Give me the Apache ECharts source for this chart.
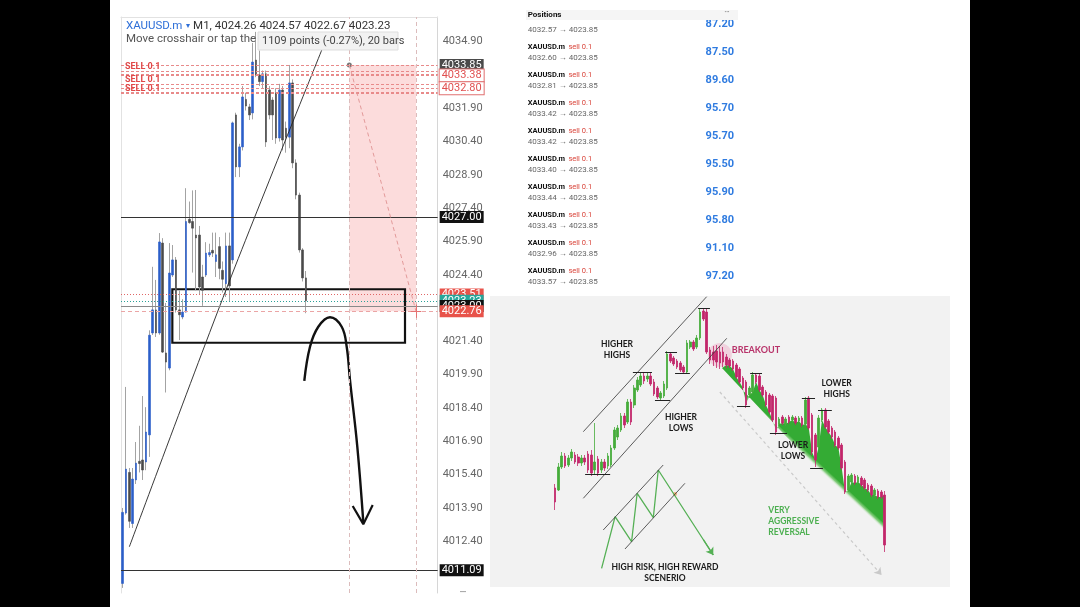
<!DOCTYPE html>
<html><head><meta charset="utf-8">
<script src="https://cdn.jsdelivr.net/npm/echarts@6/dist/echarts.min.js"></script>
<style>html,body{margin:0;padding:0;background:#000;}#c{width:1080px;height:607px;}</style>
</head><body><div id="c"></div>
<script>
// ---------- DATA ----------
const priceTicks = [4012.40, 4013.90, 4015.40, 4016.90, 4018.40, 4019.90, 4021.40, 4024.40, 4025.90, 4027.40, 4028.90, 4030.40, 4031.90, 4034.90];
// XAUUSD M1 candles [open, close, low, high]
const xauCandles = [
[4010.50,4013.70,4010.30,4013.90],[4013.67,4015.65,4013.60,4019.35],[4015.50,4013.30,4013.00,4015.70],
[4013.20,4015.20,4013.00,4015.70],[4015.16,4015.92,4014.98,4016.87],[4016.00,4015.90,4015.50,4017.60],
[4016.06,4015.61,4015.16,4018.94],[4015.97,4017.32,4015.60,4018.44],[4017.19,4021.68,4016.20,4021.90],
[4021.78,4022.82,4021.69,4024.76],[4022.82,4021.78,4021.60,4024.17],[4021.78,4025.88,4021.70,4026.28],
[4025.83,4020.92,4020.88,4026.05],[4020.88,4020.47,4019.10,4023.13],[4020.20,4024.48,4020.10,4025.83],
[4024.39,4025.07,4024.30,4025.74],[4025.07,4022.82,4022.70,4025.20],[4022.82,4022.60,4021.46,4023.70],
[4022.50,4022.72,4022.40,4023.30],[4022.72,4026.80,4022.70,4028.30],[4026.90,4026.75,4026.70,4027.70],
[4026.80,4026.50,4024.50,4028.20],[4026.19,4026.06,4023.70,4028.22],[4026.19,4023.85,4023.50,4026.60],
[4024.30,4023.70,4023.00,4024.85],[4024.39,4025.38,4024.30,4025.87],[4025.30,4025.40,4025.20,4025.80],
[4025.50,4025.38,4025.20,4026.30],[4025.00,4025.30,4024.30,4026.30],[4025.67,4024.69,4024.20,4026.10],
[4024.60,4024.20,4023.60,4025.00],[4024.00,4025.70,4023.40,4026.30],[4025.70,4023.90,4023.20,4026.30],
[4025.07,4031.24,4024.90,4031.30],[4031.60,4029.26,4028.80,4031.70],[4029.26,4030.16,4028.80,4030.30],
[4030.16,4032.41,4030.00,4032.90],[4032.30,4032.00,4031.80,4032.60],[4031.96,4031.60,4031.37,4032.10],
[4031.69,4033.98,4031.40,4034.84],[4034.07,4033.40,4033.30,4035.34],[4033.40,4033.10,4032.90,4034.50],
[4033.10,4033.45,4032.80,4033.60],[4033.45,4030.38,4030.16,4033.60],[4032.72,4031.60,4031.40,4032.90],
[4032.27,4031.60,4030.47,4032.40],[4032.59,4030.56,4030.30,4032.80],[4030.56,4032.72,4030.40,4033.00],
[4032.72,4030.47,4030.00,4032.90],[4031.00,4030.60,4029.90,4031.30],[4030.60,4033.04,4030.10,4033.85],
[4033.04,4029.44,4029.20,4033.20],[4029.44,4027.99,4027.80,4029.60],[4027.99,4025.52,4025.40,4028.10],
[4025.52,4024.26,4024.10,4025.60],[4024.26,4023.23,4022.67,4024.57]
];
const barSlots = 95;
const sellLevels = [4033.85, 4033.57, 4033.44, 4033.43, 4033.42, 4033.40, 4032.96, 4032.81, 4032.60, 4032.57];
const sellLabelLevels = [4033.57, 4032.96, 4032.57];
const measureStart = [68, 4033.85];
const measureEnd = [88, 4022.76];
const zoneBox = [[14.9, 4023.75], [84.7, 4021.34]];
const trendPts = [[2.0, 4012.15], [31.0, 4023.72], [60.1, 4034.66]];
const curvePts = [[54.49,4019.62],[56.2,4021.16],[58.69,4022.06],[62.2,4022.49],[65.71,4022.06],[67.21,4021.16],[68.2,4019.66],[70.39,4016.66],[72.19,4013.26]];
const arrowHeadPts = [[69.01,4013.99],[72.19,4013.17],[75.01,4014.03]];
// positions list
const positionPrices = [4032.57, 4032.60, 4032.81, 4033.42, 4033.42, 4033.40, 4033.44, 4033.43, 4032.96, 4033.57];
const positionProfits = [87.20, 87.50, 89.60, 95.70, 95.70, 95.50, 95.90, 95.80, 91.10, 97.20];
const currentPrice = 4023.85;
// illustration candles [open, close, low, high] (arbitrary level units)
const illusCandles = [
[112,98,90,116],[110,133,109,137],[133,144,131,148],[144,134,132,147],[135,142,133,145],[142,148,139,151],
[145,138,136,148],[143,137,134,146],[137,142,134,145],[142,138,135,145],[146,130,127,149],[145,127,124,150],
[130,138,126,177],[141,127,124,144],[130,138,127,141],[138,132,129,141],[134,144,131,147],[135,152,133,155],
[152,170,150,173],[163,172,160,175],[170,184,168,187],[184,175,172,187],[178,198,176,201],[198,178,175,201],
[195,212,192,215],[210,220,208,223],[215,224,213,227],[224,219,216,227],[221,224,218,227],[224,216,214,227],
[218,206,204,221],[212,203,201,214],[202,207,200,209],[204,216,202,219],[212,246,210,249],[246,239,237,248],
[242,236,234,244],[239,233,231,241],[237,230,228,239],[233,228,226,235],[228,257,226,260],[253,258,251,260],
[258,251,249,260],[253,262,251,265],[262,288,260,291],[289,281,279,292],[288,248,246,291],[250,240,236,253],
[248,240,234,254],[249,238,232,255],[248,237,231,254],[248,238,233,253],[243,235,232,246],[240,234,232,242],
[239,231,229,241],[235,223,221,237],[231,218,216,233],[222,212,210,224],[218,195,192,220],[205,212,202,214],
[208,225,206,228],[225,218,216,227],[224,210,208,226],[213,205,203,215],[208,195,193,210],[205,188,186,207],
[204,180,178,206],[202,168,165,204],[176,181,174,183],[183,177,175,185],[176,181,174,183],[183,178,176,185],
[180,183,178,185],[182,177,175,184],[179,182,177,184],[182,175,173,184],[176,200,174,203],[202,172,170,204],
[185,148,145,187],[165,140,133,167],[153,182,151,185],[180,190,178,192],[190,173,171,192],[179,168,166,181],
[172,163,161,174],[168,155,153,170],[162,152,150,164],[155,132,130,157],[138,108,106,140],[110,124,108,126],
[118,125,116,127],[124,117,115,126],[118,123,116,125],[122,115,113,124],[120,112,110,122],[115,110,108,117],
[114,105,103,116],[105,110,103,112],[109,103,101,111],[108,103,101,110],[105,55,48,109]
];
const illusSlots = 102;
const upperChannel = [[8.55,168.3],[46.0,303.3]];
const lowerChannel = [[8.55,101.7],[52.1,261.7]];
const swingMarks = [[9.1,16.7,126],[23.6,29.4,228],[30.3,34.9,200],[33.4,37.0,248],[36.4,40.9,227],[43.4,47.0,292],
  [55.2,59.2,194],[59.2,62.8,227],[65.2,70.4,167],[74.9,78.9,202],[77.4,81.3,132],[79.8,84.0,190]];
const reversalGuide = [[50.0,208],[99.1,25]];
const shadeLowerEdge = [[50.65,232],[99.5,60]];
const schemeUpper = [[14.6,70],[32.8,135]];
const schemeLower = [[21.2,51],[39.4,116.7]];
const schemeZigzag = [[14.1,31.7],[18.2,83.3],[23.2,58.3],[24.9,106.7],[29.8,82.3],[31.3,130],[48.0,45]];
const schemeArrowTail = [[45.0,60.3],[48.0,45]];
const breakoutSpot = [50.0,245];
const crossSpot = [36.4,106];

// ---------- BUILD ----------
const mainCats = Array.from({length: barSlots}, (_, i) => String(i));
const illusCats = Array.from({length: illusSlots}, (_, i) => String(i));
const xauBodies = xauCandles.map(c => [c[0], c[1], Math.min(c[0], c[1]), Math.max(c[0], c[1])]);
const shadePoly = illusCandles.slice(52, 100).map((c, i) => [52 + i, Math.min(c[0], c[1])])
  .concat([[100, illusCandles[100][0]], shadeLowerEdge[1], shadeLowerEdge[0]]);

const F = 'Roboto, "Liberation Sans", sans-serif';
const NOLINE = {color: 'rgba(0,0,0,0)', width: 1, type: 'solid'};
function tag(v, bg, fg, border) {
  return {show: true, position: 'end', distance: 2, formatter: v.toFixed(2), backgroundColor: bg, color: fg,
    borderColor: border || bg, borderWidth: border ? 1 : 0, padding: [1, 2, 0, 2], fontSize: 11, lineHeight: 11, fontFamily: F};
}
const priceMarks = [];
sellLevels.forEach(v => priceMarks.push({yAxis: v, lineStyle: {color: '#e88a8a', type: [3, 2], width: 1}, label: {show: false}}));
sellLabelLevels.forEach(v => priceMarks.push({yAxis: v, lineStyle: NOLINE,
  label: {show: true, position: 'insideStartTop', distance: 0, padding: [0, 0, 0, 4], formatter: 'SELL 0.1', color: '#e04848', fontSize: 9, fontWeight: 'bold', fontFamily: F}}));
priceMarks.push({yAxis: 4033.85, lineStyle: NOLINE, label: tag(4033.85, '#4a4a4a', '#fff')});
priceMarks.push({yAxis: 4033.38, lineStyle: NOLINE, label: tag(4033.38, '#fff', '#e05050', '#e07070')});
priceMarks.push({yAxis: 4032.80, lineStyle: NOLINE, label: tag(4032.80, '#fff', '#e05050', '#e07070')});
priceMarks.push({yAxis: 4027.00, lineStyle: {color: '#333', type: 'solid', width: 1}, label: tag(4027.00, '#111', '#fff')});
priceMarks.push({yAxis: 4023.51, lineStyle: {color: '#e06666', type: [1, 2], width: 1}, label: tag(4023.51, '#e8534a', '#fff')});
priceMarks.push({yAxis: 4023.23, lineStyle: {color: '#2aa198', type: [1, 2], width: 1}, label: tag(4023.23, '#26a69a', '#fff')});
priceMarks.push({yAxis: 4023.00, lineStyle: {color: '#8a8a8a', type: 'solid', width: 1}, label: tag(4023.00, '#111', '#fff')});
priceMarks.push({yAxis: 4022.76, lineStyle: {color: '#eba5a5', type: [4, 3], width: 1}, label: tag(4022.76, '#e8534a', '#fff')});
priceMarks.push({yAxis: 4011.09, lineStyle: {color: '#333', type: 'solid', width: 1}, label: tag(4011.09, '#111', '#fff')});

function seg(a, b, style, endSym) {
  return [{coord: a, symbol: 'none'}, {coord: b, symbol: endSym || 'none', lineStyle: style}];
}
const illusMarks = [];
illusMarks.push(seg(upperChannel[0], upperChannel[1], {color: '#333', width: 0.8, type: 'solid'}));
illusMarks.push(seg(lowerChannel[0], lowerChannel[1], {color: '#333', width: 0.8, type: 'solid'}));
illusMarks.push(seg(schemeUpper[0], schemeUpper[1], {color: '#333', width: 0.8, type: 'solid'}));
illusMarks.push(seg(schemeLower[0], schemeLower[1], {color: '#333', width: 0.8, type: 'solid'}));
swingMarks.forEach(m => illusMarks.push(seg([m[0], m[2]], [m[1], m[2]], {color: '#222', width: 1, type: 'solid'})));
illusMarks.push(seg(reversalGuide[0], reversalGuide[1], {color: '#c9c9c9', width: 1.2, type: [3, 3]}, 'arrow'));
illusMarks.push(seg(schemeArrowTail[0], schemeArrowTail[1], {color: '#55b055', width: 1.3, type: 'solid'}, 'arrow'));

// ---------- GRAPHICS (text blocks, panels) ----------
const g = [];
g.push({type: 'rect', shape: {x: 0, y: 0, width: 110, height: 607}, style: {fill: '#000'}, z: 0});
g.push({type: 'rect', shape: {x: 970, y: 0, width: 110, height: 607}, style: {fill: '#000'}, z: 0});
g.push({type: 'rect', shape: {x: 490, y: 296, width: 460, height: 291}, style: {fill: '#f2f2f2'}, z: -1});
g.push({type: 'text', x: 126, y: 26, z: 20, style: {text: '{a|XAUUSD.m} {t|▾} {b|M1, 4024.26 4024.57 4022.67 4023.23}', verticalAlign: 'middle',
  rich: {a: {fill: '#2e6fd8', fontSize: 11.5, fontFamily: F}, t: {fill: '#2e6fd8', fontSize: 8, fontFamily: F}, b: {fill: '#333', fontSize: 11.5, fontFamily: F}}}});
g.push({type: 'text', x: 126, y: 39, z: 20, style: {text: 'Move crosshair or tap the cha', fill: '#555', fontSize: 11.5, fontFamily: F, verticalAlign: 'middle'}});
g.push({type: 'rect', z: 21, shape: {x: 258, y: 32, width: 140, height: 18}, style: {fill: '#f2f2f2', stroke: '#dddddd', lineWidth: 1}});
g.push({type: 'text', x: 262, y: 41, z: 22, style: {text: '1109 points (-0.27%), 20 bars', fill: '#444', fontSize: 11, fontFamily: F, verticalAlign: 'middle'}});
g.push({type: 'text', x: 463, y: 592, z: 20, style: {text: '•••', fill: '#555', fontSize: 6, fontFamily: F, align: 'center', verticalAlign: 'middle'}});
// positions panel
positionPrices.forEach((p, r) => {
  const yTitle = 18.7 + 28 * r, yPrice = 30.3 + 28 * r, yVal = 24.3 + 28 * r;
  if (r > 0) {
    g.push({type: 'text', x: 527.7, y: yTitle, z: 20, style: {text: '{a|XAUUSD.m} {b|sell 0.1}', verticalAlign: 'middle',
      rich: {a: {fill: '#111', fontSize: 7.5, fontWeight: 'bold', fontFamily: F}, b: {fill: '#d9453b', fontSize: 7.5, fontFamily: F}}}});
  }
  g.push({type: 'text', x: 527.7, y: yPrice, z: 20, style: {text: p.toFixed(2) + ' → ' + currentPrice.toFixed(2), fill: '#666', fontSize: 8, fontFamily: F, verticalAlign: 'middle'}});
  g.push({type: 'text', x: 734, y: yVal, z: 20, style: {text: positionProfits[r].toFixed(2), fill: '#2f7be0', fontSize: 11, fontWeight: 'bold', fontFamily: F, align: 'right', verticalAlign: 'middle'}});
});
g.push({type: 'rect', z: 23, shape: {x: 526, y: 10, width: 212, height: 10}, style: {fill: '#f5f5f5'}});
g.push({type: 'text', x: 527.7, y: 15, z: 24, style: {text: 'Positions', fill: '#111', fontSize: 8, fontWeight: 'bold', fontFamily: F, verticalAlign: 'middle'}});
g.push({type: 'text', x: 727, y: 13, z: 24, style: {text: '•••', fill: '#888', fontSize: 5, fontFamily: F, align: 'center', verticalAlign: 'middle'}});
// illustration labels
const LF = 'Lato, "Open Sans", sans-serif';
function lbl(x, y, text, color, align, size) {
  g.push({type: 'text', x: x, y: y, z: 20, style: {text: text, fill: color, fontSize: size || 8.5, fontWeight: 'bold', fontFamily: LF,
    align: align || 'center', verticalAlign: 'middle', lineHeight: 11}});
}
lbl(617, 349.5, 'HIGHER\nHIGHS', '#1a1a1a');
lbl(681, 422.7, 'HIGHER\nLOWS', '#1a1a1a');
lbl(836.7, 388.7, 'LOWER\nHIGHS', '#1a1a1a');
lbl(793, 450.5, 'LOWER\nLOWS', '#1a1a1a');
lbl(665, 573, 'HIGH RISK, HIGH REWARD\nSCENERIO', '#1a1a1a');
lbl(731.7, 350, 'BREAKOUT', '#b8336a', 'left', 9);
lbl(768.3, 521.3, 'VERY\nAGGRESSIVE\nREVERSAL', '#4caf50', 'left');

// ---------- OPTION ----------
const option = {
  backgroundColor: '#fff',
  animation: false,
  graphic: {elements: g},
  grid: [
    {left: 121, top: 17, width: barSlots * 10 / 3, height: 576},
    {left: 553.5, top: 290, width: illusSlots * 3.294, height: 300}
  ],
  xAxis: [
    {type: 'category', gridIndex: 0, data: mainCats, show: false, boundaryGap: true},
    {type: 'value', gridIndex: 0, min: -0.5, max: barSlots - 0.5, position: 'top',
      axisLine: {show: true, onZero: false, lineStyle: {color: '#e2e2e2'}}, axisTick: {show: false}, axisLabel: {show: false}, splitLine: {show: false}},
    {type: 'category', gridIndex: 1, data: illusCats, show: false, boundaryGap: true},
    {type: 'value', gridIndex: 1, min: -0.5, max: illusSlots - 0.5, show: false}
  ],
  yAxis: [
    {type: 'value', gridIndex: 0, min: 4010.07, max: 4036.01, position: 'right', scale: true,
      axisLine: {show: true, onZero: false, lineStyle: {color: '#d6d6d6'}}, axisTick: {show: false}, splitLine: {show: false},
      axisLabel: {customValues: priceTicks, formatter: v => v.toFixed(2), color: '#666', fontSize: 11, fontFamily: F, margin: 5}},
    {type: 'value', gridIndex: 0, min: 4010.07, max: 4036.01, position: 'left', scale: true,
      axisLine: {show: true, onZero: false, lineStyle: {color: '#e2e2e2'}}, axisTick: {show: false}, axisLabel: {show: false}, splitLine: {show: false}},
    {type: 'value', gridIndex: 1, min: 10, max: 310, show: false}
  ],
  series: [
    {name: 'wicks', type: 'candlestick', xAxisIndex: 0, yAxisIndex: 0, data: xauCandles, barWidth: 1,
      itemStyle: {color: '#a3a3a3', color0: '#a3a3a3', borderColor: '#a3a3a3', borderColor0: '#a3a3a3', borderWidth: 1}},
    {name: 'XAUUSD.m', type: 'candlestick', xAxisIndex: 0, yAxisIndex: 0, data: xauBodies, barWidth: 2.4,
      itemStyle: {color: '#2b5ec9', color0: '#4a4a4a', borderColor: '#2b5ec9', borderColor0: '#4a4a4a', borderWidth: 0.6},
      markLine: {silent: true, symbol: ['none', 'none'], animation: false, data: priceMarks}},
    {name: 'trend', type: 'line', xAxisIndex: 1, yAxisIndex: 0, data: trendPts, smooth: 0.3, symbol: 'none',
      lineStyle: {color: '#222', width: 0.9},
      markArea: {silent: true, data: [
        [{coord: measureStart, itemStyle: {color: 'rgba(244,130,130,0.28)'}}, {coord: measureEnd}],
        [{coord: zoneBox[0], itemStyle: {color: 'rgba(0,0,0,0)', borderColor: '#111', borderWidth: 2.2}}, {coord: zoneBox[1]}]
      ]},
      markLine: {silent: true, symbol: ['none', 'none'], label: {show: false}, data: [
        {xAxis: measureStart[0], lineStyle: {color: '#dcbcbc', type: [4, 3], width: 1}},
        {xAxis: measureEnd[0], lineStyle: {color: '#dcbcbc', type: [4, 3], width: 1}},
        [{coord: measureStart}, {coord: measureEnd, lineStyle: {color: '#e39a9a', type: [4, 3], width: 1}}],
        [{coord: [measureEnd[0] - 1.6, measureEnd[1]]}, {coord: [measureEnd[0] + 1.6, measureEnd[1]], lineStyle: {color: '#e57373', type: 'solid', width: 1}}],
        [{coord: [measureEnd[0], measureEnd[1] - 0.3]}, {coord: [measureEnd[0], measureEnd[1] + 0.3], lineStyle: {color: '#e57373', type: 'solid', width: 1}}]
      ]}},
    {name: 'curve', type: 'line', xAxisIndex: 1, yAxisIndex: 0, data: curvePts, smooth: 0.4, symbol: 'none',
      lineStyle: {color: '#111', width: 2.4}},
    {name: 'arrowhead', type: 'line', xAxisIndex: 1, yAxisIndex: 0, data: arrowHeadPts, symbol: 'none',
      lineStyle: {color: '#111', width: 2.2}},
    {name: 'anchor', type: 'scatter', xAxisIndex: 1, yAxisIndex: 0, data: [measureStart], symbolSize: 5, itemStyle: {color: '#555'}},
    // illustration
    {name: 'shade', type: 'custom', xAxisIndex: 3, yAxisIndex: 2, z: 1, data: [shadePoly[0]],
      renderItem: function (params, api) {
        if (params.dataIndex !== 0) return null;
        const pts = shadePoly.map(p => api.coord(p));
        return {type: 'polygon', shape: {points: pts}, style: {fill: {type: 'linear', x: 0, y: 1, x2: 1, y2: 0, colorStops: [
          {offset: 0.49, color: 'rgba(255,255,255,0)'}, {offset: 0.503, color: 'rgba(90,190,80,0.7)'},
          {offset: 0.514, color: '#34ab34'}, {offset: 1, color: '#34ab34'}]}}};
      }},
    {name: 'pattern', type: 'candlestick', xAxisIndex: 2, yAxisIndex: 2, data: illusCandles, barWidth: 2.1, z: 3,
      itemStyle: {color: '#45ac3a', color0: '#c2266a', borderColor: '#45ac3a', borderColor0: '#c2266a', borderWidth: 0.8}},
    {name: 'scheme', type: 'line', xAxisIndex: 3, yAxisIndex: 2, data: schemeZigzag, symbol: 'none',
      lineStyle: {color: '#55b055', width: 1.3},
      markLine: {silent: true, label: {show: false}, symbolSize: 7, data: illusMarks}},
    {name: 'spots', type: 'scatter', xAxisIndex: 3, yAxisIndex: 2, z: 2,
      data: [{value: breakoutSpot, symbolSize: 24, itemStyle: {color: 'rgba(233,60,130,0.22)'}},
             {value: crossSpot, symbolSize: 4, itemStyle: {color: '#f0a060'}}]}
  ]
};
const chart = echarts.init(document.getElementById('c'));
chart.setOption(option);
</script></body></html>
